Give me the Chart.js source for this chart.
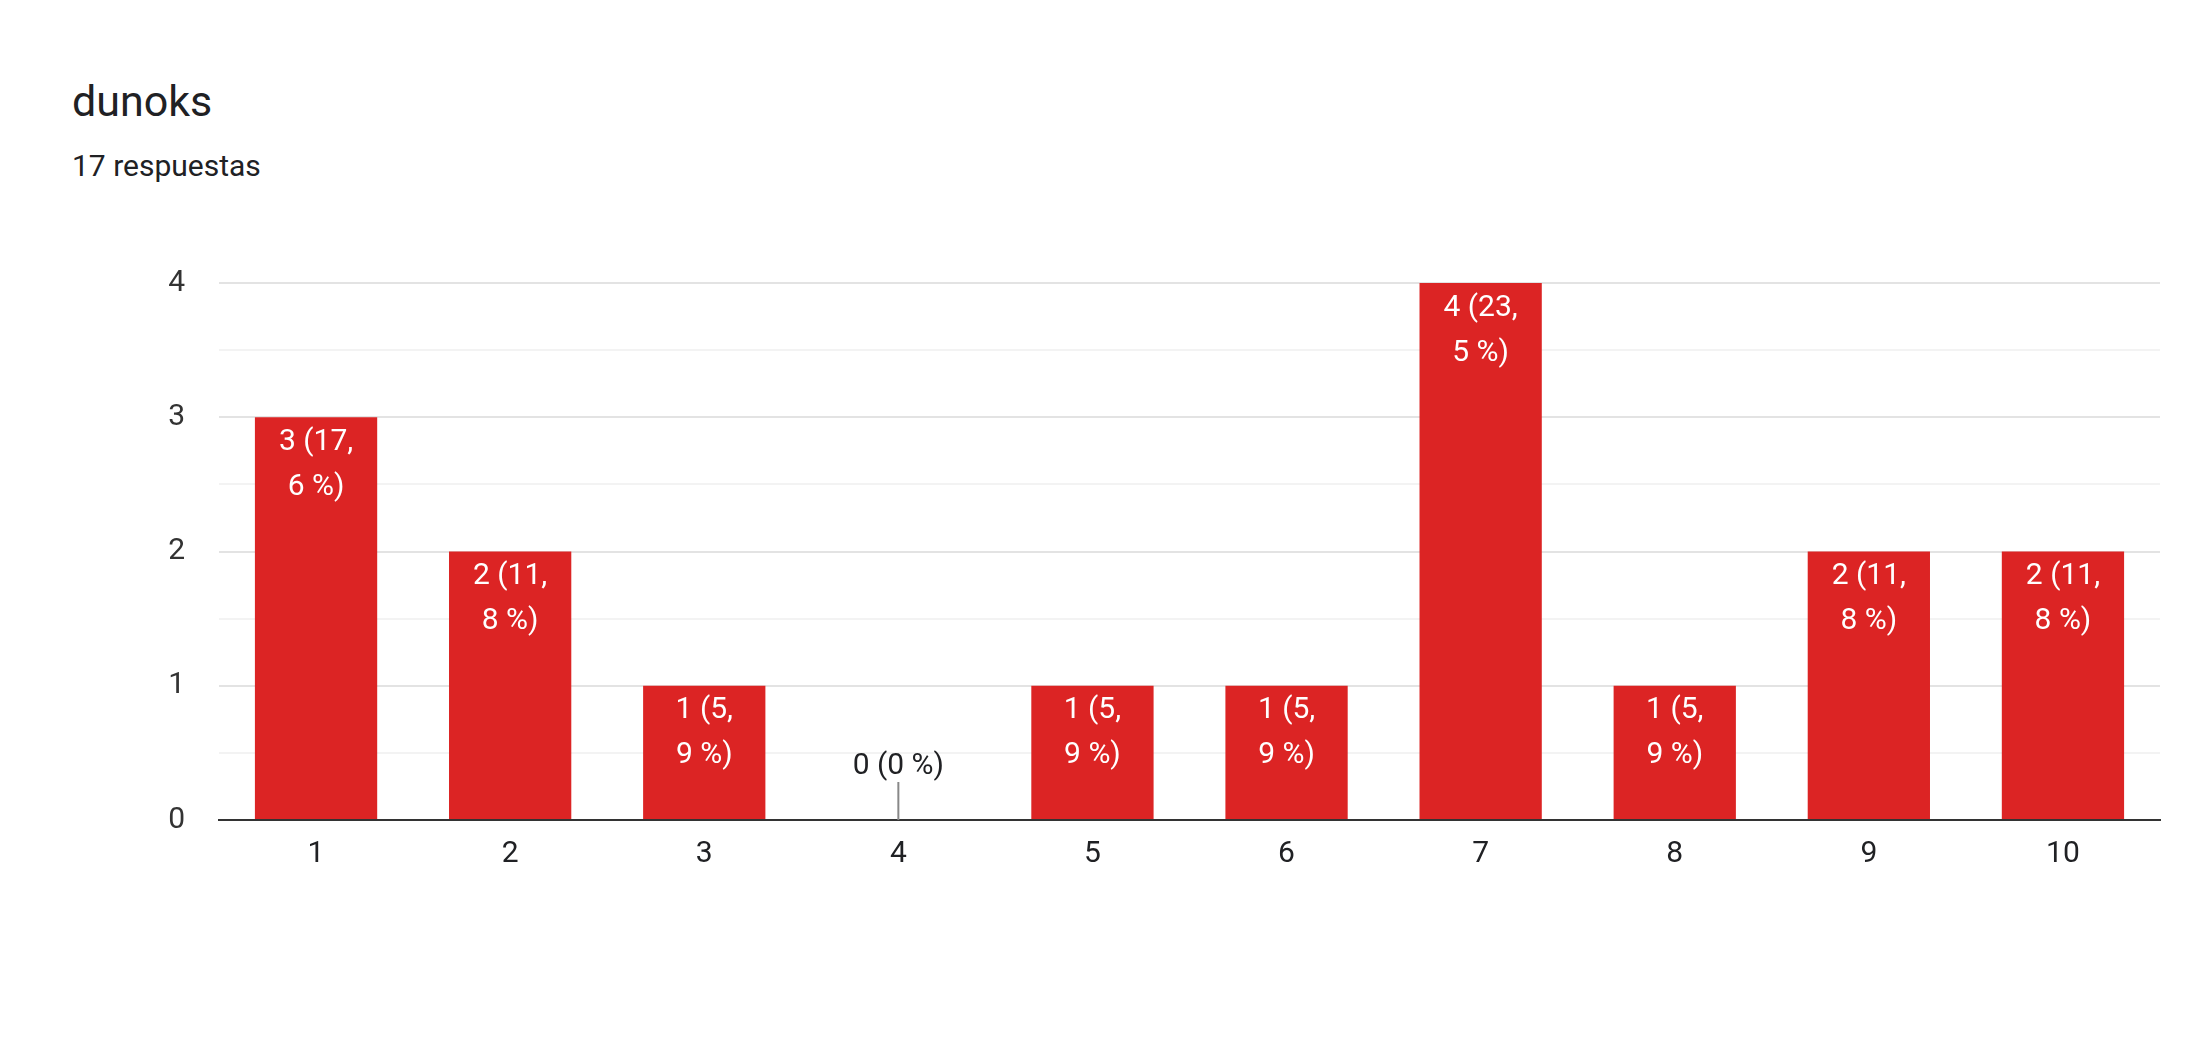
<!DOCTYPE html>
<html>
<head>
<meta charset="utf-8">
<script src="https://cdn.jsdelivr.net/npm/chart.js@4.4.0/dist/chart.umd.min.js"></script>
<style>
  body { margin: 0; background: #fff; font-family: Roboto, sans-serif; }
  #wrap { position: relative; width: 2199px; height: 1044px; }
  #title { position: absolute; left: 72px; top: 76px; font-size: 43px; color: #202124; }
  #sub { position: absolute; left: 72px; top: 148px; font-size: 30px; color: #202124; }
  canvas { position: absolute; left: 0; top: 0; }
</style>
</head>
<body>
<div id="wrap">
  <div id="title">dunoks</div>
  <div id="sub">17 respuestas</div>
  <canvas id="c" width="2199" height="1044"></canvas>
</div>
<script>
// datos
const categories = ['1', '2', '3', '4', '5', '6', '7', '8', '9', '10'];
const counts = [3, 2, 1, 0, 1, 1, 4, 1, 2, 2];
const total = 17;

function labelLines(v) {
    const pct = (v / total * 100).toFixed(1).replace('.', ',');
    if (v === 0) return [v + ' (0 %)'];
    const parts = pct.split(',');
    return [v + ' (' + parts[0] + ',', parts[1] + ' %)'];
}

// etiquetas en las barras
const barLabels = {
    id: 'barLabels',
    afterDatasetsDraw(chart) {
        const ctx = chart.ctx;
        const meta = chart.getDatasetMeta(0);
        ctx.save();
        ctx.font = '30px Roboto';
        ctx.textAlign = 'center';
        ctx.textBaseline = 'middle';
        meta.data.forEach((bar, i) => {
            const v = counts[i];
            const lines = labelLines(v);
            if (v === 0) {
                ctx.strokeStyle = '#888';
                ctx.lineWidth = 2;
                ctx.beginPath();
                ctx.moveTo(bar.x, bar.y - 38);
                ctx.lineTo(bar.x, bar.y);
                ctx.stroke();
                ctx.fillStyle = '#202124';
                ctx.fillText(lines[0], bar.x, bar.y - 54);
            } else {
                ctx.fillStyle = '#fff';
                lines.forEach((t, k) => ctx.fillText(t, bar.x, bar.y + 25 + k * 45));
            }
        });
        ctx.restore();
    }
};

new Chart(document.getElementById('c'), {
    type: 'bar',
    data: {
        labels: categories,
        datasets: [{ data: counts, backgroundColor: '#dc2424', barPercentage: 0.63, categoryPercentage: 1 }]
    },
    options: {
        responsive: false,
        animation: false,
        layout: { padding: { left: 0, top: 283, right: 39, bottom: 144 } },
        plugins: { legend: { display: false }, tooltip: { enabled: false } },
        scales: {
            x: {
                grid: { display: false },
                border: { color: '#333', width: 2 },
                ticks: { color: '#202124', font: { family: 'Roboto', size: 30 }, padding: 8 },
                afterFit: s => { s.height = 80; }
            },
            y: {
                min: 0, max: 4,
                border: { display: false },
                grid: {
                    drawTicks: false,
                    color: c => (c.tick.value % 1 === 0 ? '#e3e3e3' : '#f3f3f3'),
                    lineWidth: 2
                },
                ticks: {
                    stepSize: 0.5,
                    color: '#333',
                    font: { family: 'Roboto', size: 30 },
                    padding: 34,
                    callback: v => (v % 1 === 0 ? v : '')
                },
                afterFit: s => { s.width = 219; }
            }
        }
    },
    plugins: [barLabels]
});
</script>
</body>
</html>
